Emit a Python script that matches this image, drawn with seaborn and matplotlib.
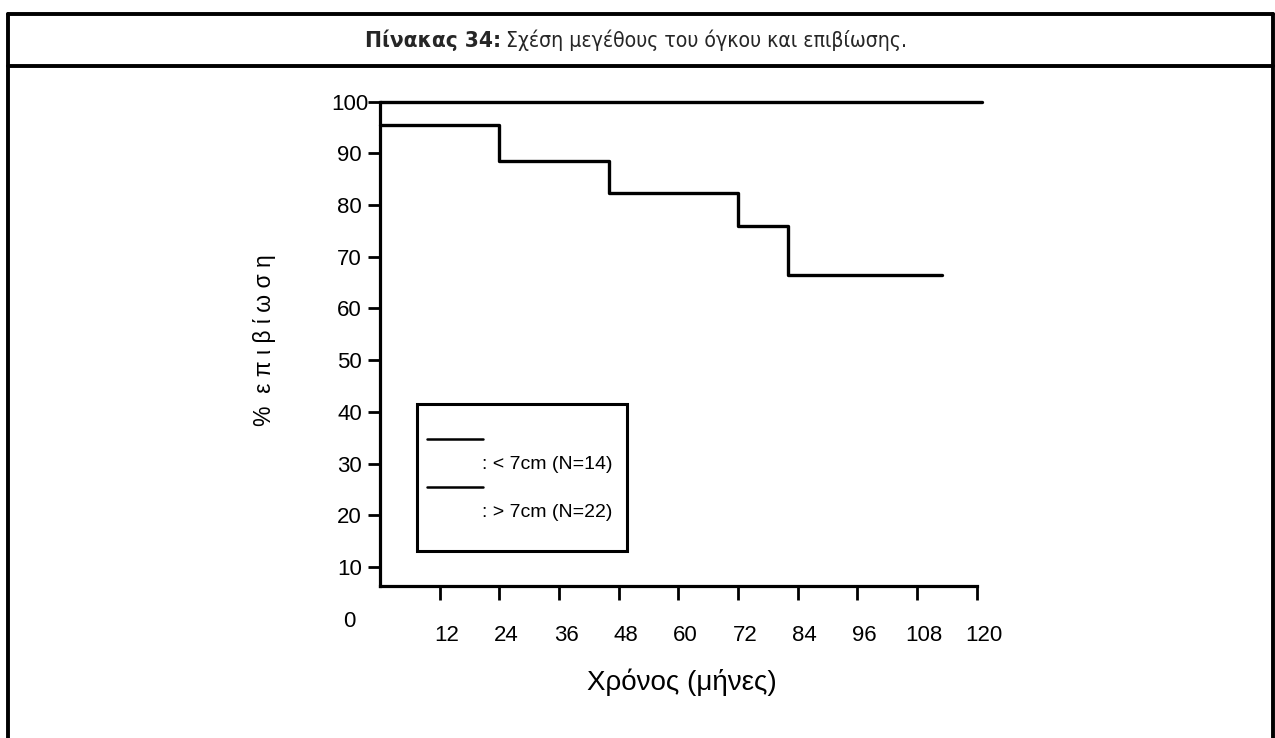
import matplotlib
matplotlib.use("Agg")
import matplotlib.pyplot as plt
from matplotlib.lines import Line2D
from matplotlib.patches import Rectangle
from matplotlib.transforms import ScaledTranslation
import seaborn as sns
import pandas as pd

# ---- data ----
title_bold = "Πίνακας 34:"
title_rest = "Σχέση μεγέθους του όγκου και επιβίωσης."
x_label = "Χρόνος (μήνες)"
y_label = "%  ε π ι β ί ω σ η"
x_ticks = [12, 24, 36, 48, 60, 72, 84, 96, 108, 120]
y_ticks = [0, 10, 20, 30, 40, 50, 60, 70, 80, 90, 100]

small_times = [0, 121]
small_surv = [100, 100]
large_times = [0, 24, 46, 72, 82, 113]
large_surv = [95.5, 88.6, 82.3, 76.0, 66.5, 66.5]

legend_labels = [": < 7cm (N=14)", ": > 7cm (N=22)"]

# ---- style ----
sns.set_theme(style="white")
plt.rcParams["font.family"] = ["Liberation Sans", "DejaVu Sans"]

fig = plt.figure(figsize=(12.75, 7.38), dpi=100)
ax = fig.add_axes([0.298, 0.1617, 0.474, 0.704])

df_small = pd.DataFrame({"t": small_times, "s": small_surv})
df_large = pd.DataFrame({"t": large_times, "s": large_surv})
lw = 2.4
for d in (df_small, df_large):
    sns.lineplot(data=d, x="t", y="s", drawstyle="steps-post", color="black",
                 lw=lw, ax=ax, clip_on=False, sort=False)

ax.set_xlim(0, 121.5)
ax.set_ylim(0, 100.5)

axis_y = 6.3
for side in ("top", "right"):
    ax.spines[side].set_visible(False)
ax.spines["left"].set_bounds(axis_y, 100)
ax.spines["bottom"].set_position(("data", axis_y))
ax.spines["bottom"].set_bounds(0, 120)
for side in ("left", "bottom"):
    ax.spines[side].set_linewidth(2.3)
    ax.spines[side].set_color("black")

ax.set_xticks(x_ticks)
ax.set_xticklabels([str(v) for v in x_ticks])
ax.set_yticks(y_ticks)
ax.set_yticklabels([str(v) for v in y_ticks])
ax.tick_params(axis="x", direction="out", length=10, width=2, pad=18,
               labelsize=16, colors="black", bottom=True)
ax.tick_params(axis="y", direction="out", length=9, width=2, pad=13,
               labelsize=16, colors="black", left=True)
for lab in ax.get_yticklabels():
    lab.set_horizontalalignment("center")
shift = ScaledTranslation(7 / 100, 0, fig.dpi_scale_trans)
for lab in ax.get_xticklabels():
    lab.set_transform(lab.get_transform() + shift)
ax.yaxis.get_major_ticks()[0].tick1line.set_visible(False)

ax.set_xlabel(x_label, fontsize=20, labelpad=16, color="black")
ax.set_ylabel(y_label, fontsize=16.5, color="black")
ax.yaxis.set_label_coords(-0.172, 0.536)
ax.grid(False)

# ---- legend box (drawn in data coordinates) ----
ax.add_patch(Rectangle((7.4, 13.1), 42.2, 28.4, fill=False, edgecolor="black",
                       lw=2.2, clip_on=False, zorder=3))
for i, lab in enumerate(legend_labels):
    y_line = 34.8 - i * 9.3
    ax.plot([9.4, 20.7], [y_line, y_line], color="black", lw=1.8, clip_on=False)
    ax.text(20.5, y_line - 5.0, lab, fontsize=14, va="center", ha="left",
            color="black")

# ---- frame and title band ----
frame_kw = dict(color="black", lw=2.8, transform=fig.transFigure)
fig.add_artist(Line2D([0.0063, 0.9984], [0.981, 0.981], **frame_kw))
fig.add_artist(Line2D([0.0063, 0.9984], [0.9106, 0.9106], **frame_kw))
fig.add_artist(Line2D([0.0063, 0.0063], [0.0, 0.981], **frame_kw))
fig.add_artist(Line2D([0.9984, 0.9984], [0.0, 0.981], **frame_kw))

title_family = ["DejaVu Sans"]
fig.text(501 / 1275, 0.946, title_bold, ha="right", va="center",
         fontsize=16.2, fontweight="bold", fontstretch="condensed",
         family=title_family)
fig.text(506 / 1275, 0.946, title_rest, ha="left", va="center",
         fontsize=15.2, fontstretch="condensed", family=title_family)

fig.savefig("out.png", dpi=100, facecolor="white")
